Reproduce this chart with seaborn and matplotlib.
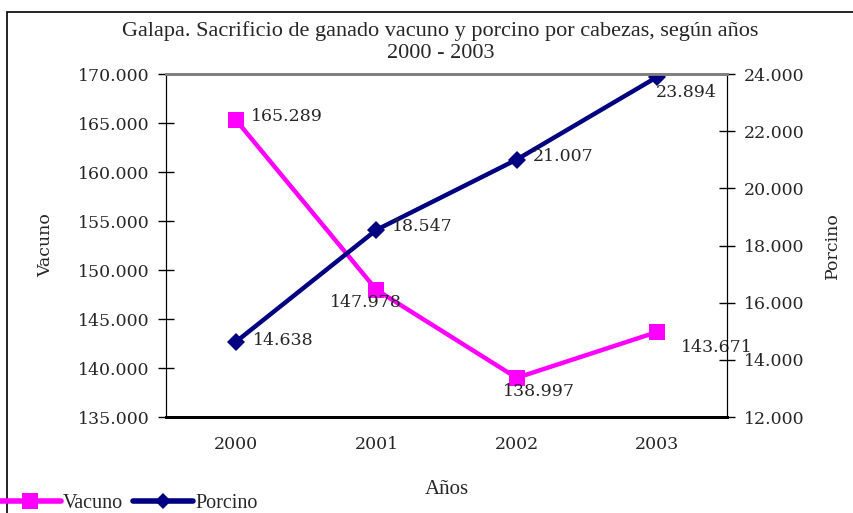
import numpy as np
import pandas as pd
import seaborn as sns
import matplotlib.pyplot as plt
from matplotlib.lines import Line2D
from matplotlib.patches import Rectangle
from matplotlib.ticker import FuncFormatter, FixedLocator

sns.set_style('white')
plt.rcParams['font.family'] = ['DejaVu Serif']

# datos
years = ['2000', '2001', '2002', '2003']
vacuno = [165289, 147978, 138997, 143671]
porcino = [14638, 18547, 21007, 23894]

df = pd.DataFrame({'pos': range(len(years)), 'Vacuno': vacuno, 'Porcino': porcino})

fig = plt.figure(figsize=(8.54, 5.13), dpi=100)
ax = fig.add_axes([0.1944, 0.1871, 0.657, 0.6686])
ax2 = ax.twinx()

sns.lineplot(data=df, x='pos', y='Vacuno', ax=ax, color='#ff00ff', lw=3.2,
             marker='s', markersize=12, markeredgewidth=0)
sns.lineplot(data=df, x='pos', y='Porcino', ax=ax2, color='#000080', lw=3.2,
             marker='D', markersize=9, markeredgewidth=0)

ax.set_xlim(-0.5, 3.5)
ax.set_ylim(135000, 170000)
ax2.set_ylim(12000, 24000)
ax.set_yticks(np.arange(135000, 170001, 5000))
ax2.set_yticks(np.arange(12000, 24001, 2000))
fmt = FuncFormatter(lambda v, p: f'{v:,.0f}'.replace(',', '.'))
ax.yaxis.set_major_formatter(fmt)
ax2.yaxis.set_major_formatter(fmt)

# x: marcas entre categorias, etiquetas centradas
ax.xaxis.set_major_locator(FixedLocator([-0.5, 0.5, 1.5, 2.5, 3.5]))
ax.xaxis.set_major_formatter(FuncFormatter(lambda v, p: ''))
ax.xaxis.set_minor_locator(FixedLocator(range(len(years))))
ax.set_xticklabels(years, minor=True)
ax.tick_params(axis='x', which='major', direction='inout', length=12, width=1, color='black')
ax.tick_params(axis='x', which='minor', length=0, pad=14, labelsize=12.5)
ax.tick_params(axis='y', direction='inout', length=12, width=1, pad=6, labelsize=12.5,
               left=True, color='black')
ax2.tick_params(axis='y', direction='inout', length=12, width=1, pad=6, labelsize=12.5,
                right=True, color='black')

for a in (ax, ax2):
    a.spines['left'].set_color('black')
    a.spines['right'].set_color('black')
    a.spines['bottom'].set_color('black')
    a.spines['bottom'].set_linewidth(2)
    a.spines['top'].set_color('#808080')
    a.spines['top'].set_linewidth(2)
    a.grid(False)

ax.set_xlabel('Años', fontsize=15, labelpad=19, family='Liberation Serif')
ax.set_ylabel('Vacuno', fontsize=12.5, labelpad=17)
ax2.set_ylabel('Porcino', fontsize=12.5, labelpad=14)

# etiquetas de datos (desplazamiento en pixeles, y positivo = arriba)
fmt_lbl = lambda v: f'{v:,.0f}'.replace(',', '.')
v_off = [(15, 4, 'left'), (-11, -13, 'center'), (22, -14, 'center'), (24, -15, 'left')]
p_off = [(17, 1, 'left'), (16, 3, 'left'), (16, 3, 'left'), (-1, -15, 'left')]
for i in range(len(years)):
    dx, dy, ha = v_off[i]
    ax.annotate(fmt_lbl(vacuno[i]), (i, vacuno[i]), xytext=(dx, dy), textcoords='offset pixels',
                ha=ha, va='center', fontsize=12.5, annotation_clip=False)
    dx, dy, ha = p_off[i]
    ax2.annotate(fmt_lbl(porcino[i]), (i, porcino[i]), xytext=(dx, dy), textcoords='offset pixels',
                 ha=ha, va='center', fontsize=12.5, annotation_clip=False)

fig.text(0.516, 0.940, 'Galapa. Sacrificio de ganado vacuno y porcino por cabezas, según años',
         ha='center', va='center', fontsize=16, family='Liberation Serif')
fig.text(0.516, 0.895, '2000 - 2003', ha='center', va='center', fontsize=16,
         family='Liberation Serif')

# marco exterior
fig.patches.append(Rectangle((7 / 854, -0.1), 1.2, 1 - 12 / 513 + 0.1, transform=fig.transFigure,
                             fill=False, edgecolor='black', lw=1.2))

handles = [Line2D([], [], color='#ff00ff', lw=4, marker='s', markersize=12, markeredgewidth=0),
           Line2D([], [], color='#000080', lw=4, marker='D', markersize=8, markeredgewidth=0)]
fig.legend(handles, ['Vacuno', 'Porcino'], loc='lower left', bbox_to_anchor=(-0.021, -0.035),
           ncol=2, frameon=False, handlelength=3.0, handletextpad=0.1,
           columnspacing=0.5, prop={'family': 'Liberation Serif', 'size': 14.5})

fig.savefig('out.png', dpi=100)
